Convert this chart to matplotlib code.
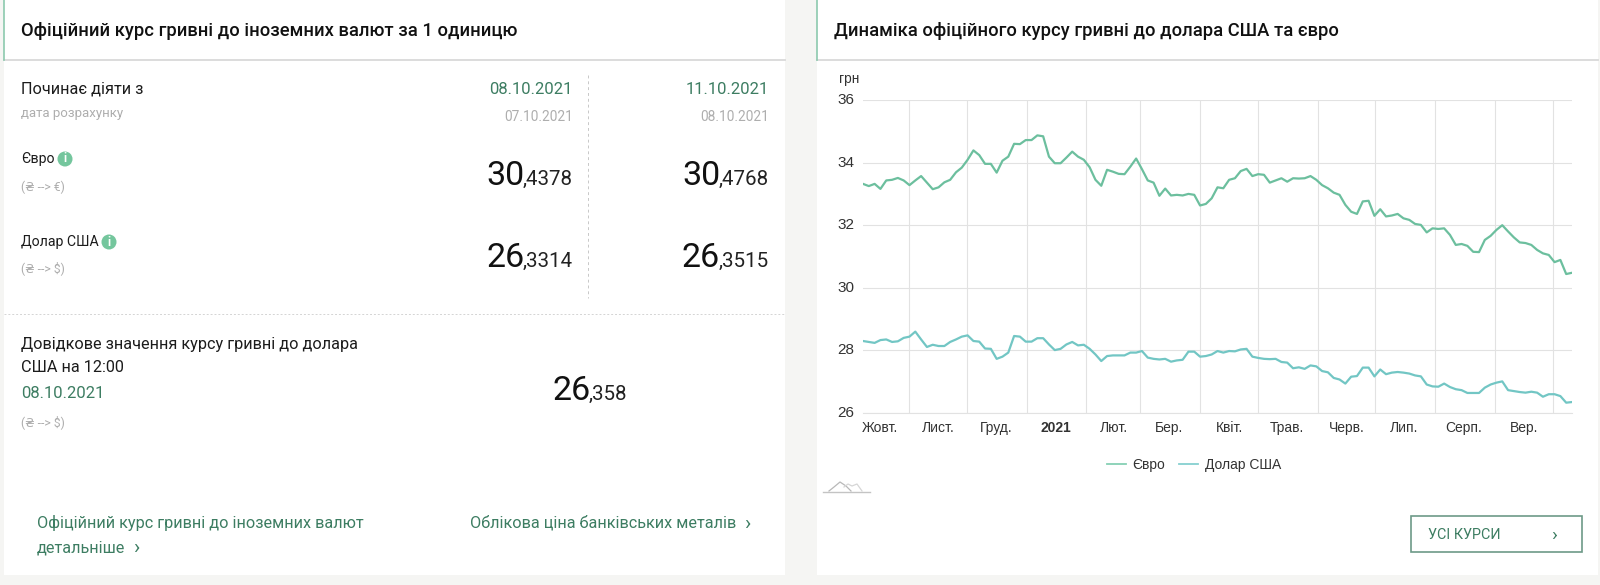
import matplotlib
matplotlib.use("Agg")
import matplotlib.pyplot as plt
import matplotlib.dates as mdates
from matplotlib.patches import Rectangle, Circle
from matplotlib.transforms import ScaledTranslation
import pandas as pd

plt.rcParams['font.family'] = ['Roboto', 'DejaVu Sans']

# values, one every 3 days or so
euro = [33.32, 33.25, 33.32, 33.16, 33.43, 33.45, 33.51, 33.43, 33.28, 33.43,
        33.57, 33.36, 33.15, 33.21, 33.37, 33.45, 33.69, 33.84, 34.09, 34.39,
        34.24, 33.96, 33.96, 33.68, 34.06, 34.19, 34.60, 34.59, 34.72, 34.72,
        34.87, 34.84, 34.19, 33.98, 33.98, 34.16, 34.35, 34.19, 34.09, 33.85,
        33.45, 33.26, 33.77, 33.71, 33.64, 33.63, 33.87, 34.13, 33.79, 33.43,
        33.36, 32.94, 33.17, 32.95, 32.97, 32.95, 33.00, 32.97, 32.63, 32.68,
        32.86, 33.21, 33.18, 33.45, 33.50, 33.73, 33.80, 33.57, 33.63, 33.61,
        33.36, 33.43, 33.50, 33.39, 33.50, 33.49, 33.50, 33.57, 33.45, 33.28,
        33.18, 33.04, 32.97, 32.65, 32.43, 32.36, 32.76, 32.78, 32.30, 32.51,
        32.28, 32.31, 32.36, 32.22, 32.17, 32.04, 32.01, 31.77, 31.90, 31.88,
        31.90, 31.69, 31.37, 31.40, 31.34, 31.15, 31.14, 31.53, 31.66, 31.85,
        32.00, 31.80, 31.61, 31.45, 31.43, 31.37, 31.21, 31.10, 31.05, 30.82,
        30.89, 30.44, 30.48]
dollar = [28.30, 28.27, 28.24, 28.33, 28.35, 28.27, 28.29, 28.40, 28.44, 28.60,
          28.35, 28.11, 28.18, 28.14, 28.14, 28.27, 28.35, 28.44, 28.48, 28.30,
          28.28, 28.06, 28.05, 27.73, 27.80, 27.93, 28.46, 28.44, 28.28, 28.28,
          28.39, 28.39, 28.19, 28.01, 28.05, 28.19, 28.27, 28.16, 28.18, 28.05,
          27.87, 27.66, 27.82, 27.84, 27.84, 27.84, 27.93, 27.93, 27.98, 27.77,
          27.73, 27.71, 27.73, 27.64, 27.68, 27.70, 27.96, 27.96, 27.80, 27.82,
          27.87, 27.98, 27.93, 27.98, 27.97, 28.03, 28.05, 27.80, 27.76, 27.73,
          27.72, 27.73, 27.63, 27.61, 27.43, 27.46, 27.41, 27.52, 27.49, 27.34,
          27.30, 27.12, 27.07, 26.94, 27.16, 27.18, 27.45, 27.45, 27.17, 27.39,
          27.24, 27.29, 27.31, 27.29, 27.26, 27.20, 27.17, 26.91, 26.85, 26.84,
          26.94, 26.83, 26.76, 26.73, 26.64, 26.64, 26.64, 26.81, 26.91, 26.97,
          27.01, 26.73, 26.70, 26.67, 26.65, 26.68, 26.65, 26.52, 26.60, 26.60,
          26.54, 26.33, 26.35]
dates = pd.date_range("2020-10-08", "2021-10-11", periods=len(euro))

month_starts = pd.date_range("2020-11-01", "2021-10-01", freq="MS")
month_mids = pd.to_datetime(["2020-10-17", "2020-11-16", "2020-12-16", "2021-01-16",
                             "2021-02-15", "2021-03-16", "2021-04-16", "2021-05-16",
                             "2021-06-16", "2021-07-16", "2021-08-16", "2021-09-16"])
month_labels = ["Жовт.", "Лист.", "Груд.", "2021", "Лют.", "Бер.", "Квіт.", "Трав.",
                "Черв.", "Лип.", "Серп.", "Вер."]
y_ticks = [26, 28, 30, 32, 34, 36]

BG = "#f5f5f3"
GREEN = "#3d7d62"
GRAY = "#aeaeae"
DARK = "#1c1c1c"
ICON = "#74c69d"
CHART_FONT = ['Liberation Sans', 'DejaVu Sans']

fig = plt.figure(figsize=(16, 5.85), dpi=100, facecolor=BG)

# page layer in pixels
page = fig.add_axes([0, 0, 1, 1])
page.set_xlim(0, 1600)
page.set_ylim(585, 0)
page.axis("off")


def card(x0, x1):
    page.add_patch(Rectangle((x0, 0), x1 - x0, 575, fc="white", ec="none"))
    page.plot([x0, x1], [60, 60], color="#dcdcdc", lw=1.4)
    page.plot([x0, x0], [0, 60], color="#8cc9ae", lw=1.2)


def txt(x, y, s, size=11, color=DARK, ha="left", **kw):
    page.text(x, y, s, fontsize=size, color=color, ha=ha, va="center", **kw)


def rate(x_big, x_small, base, big, small):
    page.text(x_big, base, big, fontsize=24.5, color="#111111", ha="right", va="baseline")
    page.text(x_small, base, small, fontsize=14.8, color="#222222", ha="right", va="baseline")


def info(x, y):
    page.add_patch(Circle((x, y), 7.5, fc=ICON, ec="none"))
    page.text(x, y, "i", fontsize=8.5, color="white", ha="center", va="center", weight="bold")


card(4, 785)
card(817, 1598)

txt(21, 31, "Офіційний курс гривні до іноземних валют за 1 одиницю", 13.2, "#111111", weight="medium")
txt(834, 31, "Динаміка офіційного курсу гривні до долара США та євро", 13.2, "#111111", weight="medium")

txt(21, 89, "Починає діяти з", 11.7)
txt(21, 114, "дата розрахунку", 9.5, GRAY)
txt(573, 89, "08.10.2021", 12, GREEN, ha="right")
txt(769, 89, "11.10.2021", 12, GREEN, ha="right")
txt(573, 117, "07.10.2021", 9.9, GRAY, ha="right")
txt(769, 117, "08.10.2021", 9.9, GRAY, ha="right")

txt(21, 159, "Євро", 10.2)
info(65, 159)
txt(21, 187, "(₴ --> €)", 8.8, GRAY)
txt(21, 242, "Долар США", 10.2)
info(109, 242)
txt(21, 268, "(₴ --> $)", 8.8, GRAY)

rate(525, 573, 185, "30", ",4378")
rate(720, 769, 185, "30", ",4768")
rate(525, 573, 267, "26", ",3314")
rate(720, 769, 267, "26", ",3515")

page.plot([588, 588], [75, 298], color="#c8c8c8", lw=0.7, ls=(0, (3, 3)))
page.plot([4, 785], [314, 314], color="#d4d4d4", lw=0.7, ls=(0, (2, 2)))

txt(21, 344, "Довідкове значення курсу гривні до долара", 11.7)
txt(21, 368, "США на 12:00", 11.7)
txt(21, 393, "08.10.2021", 12, GREEN)
txt(21, 422, "(₴ --> $)", 8.8, GRAY)
rate(591, 627, 400, "26", ",358")

txt(37, 523, "Офіційний курс гривні до іноземних валют", 11.7, GREEN)
txt(37, 548, "детальніше", 11.7, GREEN)
txt(133, 548, "›", 15, GREEN)
txt(470, 523, "Облікова ціна банківських металів", 11.7, GREEN)
txt(744, 524, "›", 15, GREEN)

page.add_patch(Rectangle((1411, 516), 171, 36, fc="white", ec="#6d9a88", lw=1.2))
txt(1428, 535, "УСІ КУРСИ", 10.4, GREEN)
txt(1551, 535, "›", 14, GREEN)

# little chart icon under the plot
page.plot([823, 870], [491.5, 491.5], color="#c4c4c4", lw=1)
page.plot([829, 834, 840, 846, 851], [491, 487, 482, 486, 491], color="#b8b8b8", lw=0.9)
page.plot([844, 848, 852, 857, 862], [487, 484, 486, 484, 491], color="#d6d6d6", lw=0.9)

# chart layer, pixel box 863..1572 x 100..413
ax = fig.add_axes([863 / 1600, 1 - 413 / 585, (1572 - 863) / 1600, (413 - 100) / 585])
ax.patch.set_alpha(0)
ax.plot(dates, euro, color="#6cbf9e", lw=1.6, label="Євро", solid_joinstyle="round")
ax.plot(dates, dollar, color="#72c6c4", lw=1.6, label="Долар США", solid_joinstyle="round")
ax.set_xlim(dates[0], dates[-1])
ax.set_ylim(26, 36)
ax.set_yticks(y_ticks)
ax.set_xticks(mdates.date2num(month_starts))
ax.set_xticklabels([])
ax.set_xticks(mdates.date2num(month_mids), labels=month_labels, minor=True)
ax.grid(True, which="major", color="#e2e2e2", lw=0.8)
ax.set_axisbelow(True)
ax.tick_params(axis="x", which="both", length=0)
ax.tick_params(axis="x", which="minor", labelsize=10, labelcolor="#333333", pad=6)
ax.tick_params(axis="y", length=0, labelsize=11, labelcolor="#333333", pad=6)
for lab in ax.get_xticklabels(minor=True) + ax.get_yticklabels():
    lab.set_family(CHART_FONT)
    if lab.get_text() == "2021":
        lab.set_fontweight("bold")
# y labels sit a touch above the gridlines
nudge = ScaledTranslation(0, 1.5 / 100, fig.dpi_scale_trans)
for lab in ax.get_yticklabels():
    lab.set_transform(lab.get_transform() + nudge)
for side in ["top", "right", "left"]:
    ax.spines[side].set_visible(False)
ax.spines["bottom"].set_color("#e2e2e2")
page.text(839, 79, "грн", fontsize=9.8, color="#333333", va="center", family=CHART_FONT)

leg = ax.legend(loc="center", bbox_to_anchor=(1194, 465), bbox_transform=page.transData,
                ncol=2, frameon=False, handlelength=1.35, handletextpad=0.5,
                columnspacing=1.0, prop={'family': CHART_FONT, 'size': 10})
for h, c in zip(leg.get_lines(), ["#86d0b4", "#86d0d0"]):
    h.set_color(c)
    h.set_linewidth(1.3)
for t in leg.get_texts():
    t.set_color("#333333")

fig.savefig("out.png", dpi=100, facecolor=BG)
